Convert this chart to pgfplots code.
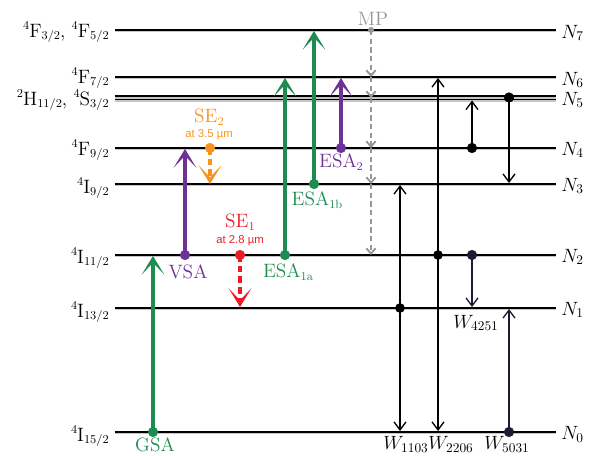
\documentclass[border=0pt]{standalone}
\usepackage{fontspec}
\usepackage{pgfplots}
\pgfplotsset{compat=1.18}
\usetikzlibrary{arrows.meta}
\newfontfamily\sans{Liberation Sans}
\definecolor{cgreen}{RGB}{30,140,80}
\definecolor{cpurple}{RGB}{110,50,150}
\definecolor{corange}{RGB}{247,148,30}
\definecolor{cred}{RGB}{237,28,36}
\definecolor{cgray}{RGB}{150,150,150}
\definecolor{cnavy}{RGB}{25,28,50}
\newcommand\sub[1]{\raisebox{-0.35ex}{\fontsize{9}{10}\selectfont #1}}
\newcommand\spr[1]{\raisebox{0.95ex}{\fontsize{9}{10}\selectfont #1}}
\begin{document}
\begin{tikzpicture}[
  big/.style={line width=2.8pt,-{Stealth[length=14pt,width=17pt,inset=9pt]}},
  bigd/.style={line width=2.8pt,dash pattern=on 5pt off 3pt,-{Stealth[length=14pt,width=17pt,inset=9pt]}},
  thin/.style={line width=1pt,-{Straight Barb[length=6pt,width=9pt]}},
  lbl/.style={font=\fontsize{14.5}{16}\selectfont,inner sep=0pt}
]
\begin{axis}[
  scale only axis, width=442.5pt, height=342pt,
  xmin=0, xmax=590, ymin=0, ymax=456, y dir=reverse,
  hide axis, clip=false
]
\addplot[draw=none] coordinates {(0,0) (590,456)};
% level halos
\pgfplotsinvokeforeach{30,77,96,99.5,148,184,255,308,432}{
  \addplot[gray!45, line width=2.6pt, forget plot] coordinates {(115,#1+0.6) (556,#1+0.6)};
}
\pgfplotsinvokeforeach{30,77,96,99.5,148,184,255,308,432}{
  \addplot[black, line width=1.1pt, forget plot] coordinates {(115,#1) (556,#1)};
}
% GSA
\addplot[cgreen, big] coordinates {(153,432) (153,256)};
\addplot[cgreen, only marks, mark=*, mark size=3.6pt] coordinates {(153,432)};
% VSA
\addplot[cpurple, big] coordinates {(185,255) (185,149)};
\addplot[cpurple, only marks, mark=*, mark size=3.6pt] coordinates {(185,255)};
% SE2
\addplot[corange, bigd] coordinates {(210,148) (210,184)};
\addplot[corange, only marks, mark=*, mark size=3.6pt] coordinates {(210,148)};
% SE1
\addplot[cred, bigd] coordinates {(240,255) (240,307)};
\addplot[cred, only marks, mark=*, mark size=3.6pt] coordinates {(240,255)};
% ESA1a
\addplot[cgreen, big] coordinates {(285,255) (285,78)};
\addplot[cgreen, only marks, mark=*, mark size=3.6pt] coordinates {(285,255)};
% ESA1b
\addplot[cgreen, big] coordinates {(314,184) (314,31)};
\addplot[cgreen, only marks, mark=*, mark size=3.6pt] coordinates {(314,184)};
% ESA2
\addplot[cpurple, big] coordinates {(341,148) (341,78)};
\addplot[cpurple, only marks, mark=*, mark size=3.6pt] coordinates {(341,148)};
% MP
\addplot[cgray, line width=1.4pt, dash pattern=on 4pt off 2.5pt, -{Straight Barb[length=4pt,width=7pt]}] coordinates {(371,30) (371,77)};
\addplot[cgray, line width=1.4pt, dash pattern=on 4pt off 2.5pt, -{Straight Barb[length=4pt,width=7pt]}] coordinates {(371,77) (371,98)};
\addplot[cgray, line width=1.4pt, dash pattern=on 4pt off 2.5pt, -{Straight Barb[length=4pt,width=7pt]}] coordinates {(371,98) (371,148)};
\addplot[cgray, line width=1.4pt, dash pattern=on 4pt off 2.5pt, -{Straight Barb[length=4pt,width=7pt]}] coordinates {(371,148) (371,184)};
\addplot[cgray, line width=1.4pt, dash pattern=on 4pt off 2.5pt, -{Straight Barb[length=4pt,width=7pt]}] coordinates {(371,184) (371,255)};
\addplot[cgray, only marks, mark=*, mark size=2pt] coordinates {(371,30)};
% W1103
\addplot[black, thin] coordinates {(400,308) (400,185)};
\addplot[black, thin] coordinates {(400,308) (400,431)};
\addplot[black, only marks, mark=*, mark size=3.4pt] coordinates {(400,308)};
% W2206
\addplot[black, thin] coordinates {(438,255) (438,78)};
\addplot[black, thin] coordinates {(438,255) (438,431)};
\addplot[black, only marks, mark=*, mark size=3.4pt] coordinates {(438,255)};
% N4 -> N5
\addplot[black, thin] coordinates {(472,148) (472,100.5)};
\addplot[black, only marks, mark=*, mark size=3.6pt] coordinates {(472,148)};
% N5 -> N3
\addplot[black, thin] coordinates {(509,97.5) (509,183)};
\addplot[black, only marks, mark=*, mark size=3.6pt] coordinates {(509,97.5)};
% W4251
\addplot[cnavy, thin] coordinates {(472,255) (472,307)};
\addplot[cnavy, only marks, mark=*, mark size=3.6pt] coordinates {(472,255)};
% W5031
\addplot[cnavy, thin] coordinates {(509,432) (509,309)};
\addplot[cnavy, only marks, mark=*, mark size=3.6pt] coordinates {(509,432)};

% left level labels
\node[lbl, anchor=east] at (axis cs:109,32) {\spr{4}F\sub{3/2}, \spr{4}F\sub{5/2}};
\node[lbl, anchor=east] at (axis cs:109,78) {\spr{4}F\sub{7/2}};
\node[lbl, anchor=east] at (axis cs:109,100) {\spr{2}H\sub{11/2}, \spr{4}S\sub{3/2}};
\node[lbl, anchor=east] at (axis cs:109,150) {\spr{4}F\sub{9/2}};
\node[lbl, anchor=east] at (axis cs:109,188) {\spr{4}I\sub{9/2}};
\node[lbl, anchor=east] at (axis cs:109,258) {\spr{4}I\sub{11/2}};
\node[lbl, anchor=east] at (axis cs:109,312) {\spr{4}I\sub{13/2}};
\node[lbl, anchor=east] at (axis cs:109,436) {\spr{4}I\sub{15/2}};
% right level labels
\node[lbl, anchor=west] at (axis cs:561,33) {$N_7$};
\node[lbl, anchor=west] at (axis cs:561,80) {$N_6$};
\node[lbl, anchor=west] at (axis cs:561,100) {$N_5$};
\node[lbl, anchor=west] at (axis cs:561,150) {$N_4$};
\node[lbl, anchor=west] at (axis cs:561,186) {$N_3$};
\node[lbl, anchor=west] at (axis cs:561,257) {$N_2$};
\node[lbl, anchor=west] at (axis cs:561,310) {$N_1$};
\node[lbl, anchor=west] at (axis cs:561,434) {$N_0$};
% process labels
\node[lbl, text=cgreen] at (axis cs:155,445) {GSA};
\node[lbl, text=cpurple] at (axis cs:188,272) {VSA};
\node[lbl, text=cgreen] at (axis cs:288,272) {ESA\sub{1a}};
\node[lbl, text=cgreen] at (axis cs:317,200) {ESA\sub{1b}};
\node[lbl, text=cpurple] at (axis cs:341,162) {ESA\sub{2}};
\node[lbl, text=cred] at (axis cs:240,222) {SE\sub{1}};
\node[inner sep=0pt, text=cred, font=\sans\fontsize{8.5}{10}\selectfont] at (axis cs:240,241) {at 2.8 µm};
\node[lbl, text=corange] at (axis cs:209,117) {SE\sub{2}};
\node[inner sep=0pt, text=corange, font=\sans\fontsize{8.5}{10}\selectfont] at (axis cs:209,135) {at 3.5 µm};
\node[lbl, text=cgray] at (axis cs:373,19) {MP};
\node[lbl] at (axis cs:406,444) {$W_{1103}$};
\node[lbl] at (axis cs:451,444) {$W_{2206}$};
\node[lbl] at (axis cs:507,444) {$W_{5031}$};
\node[lbl] at (axis cs:476,323) {$W_{4251}$};
\end{axis}
\end{tikzpicture}
\end{document}
